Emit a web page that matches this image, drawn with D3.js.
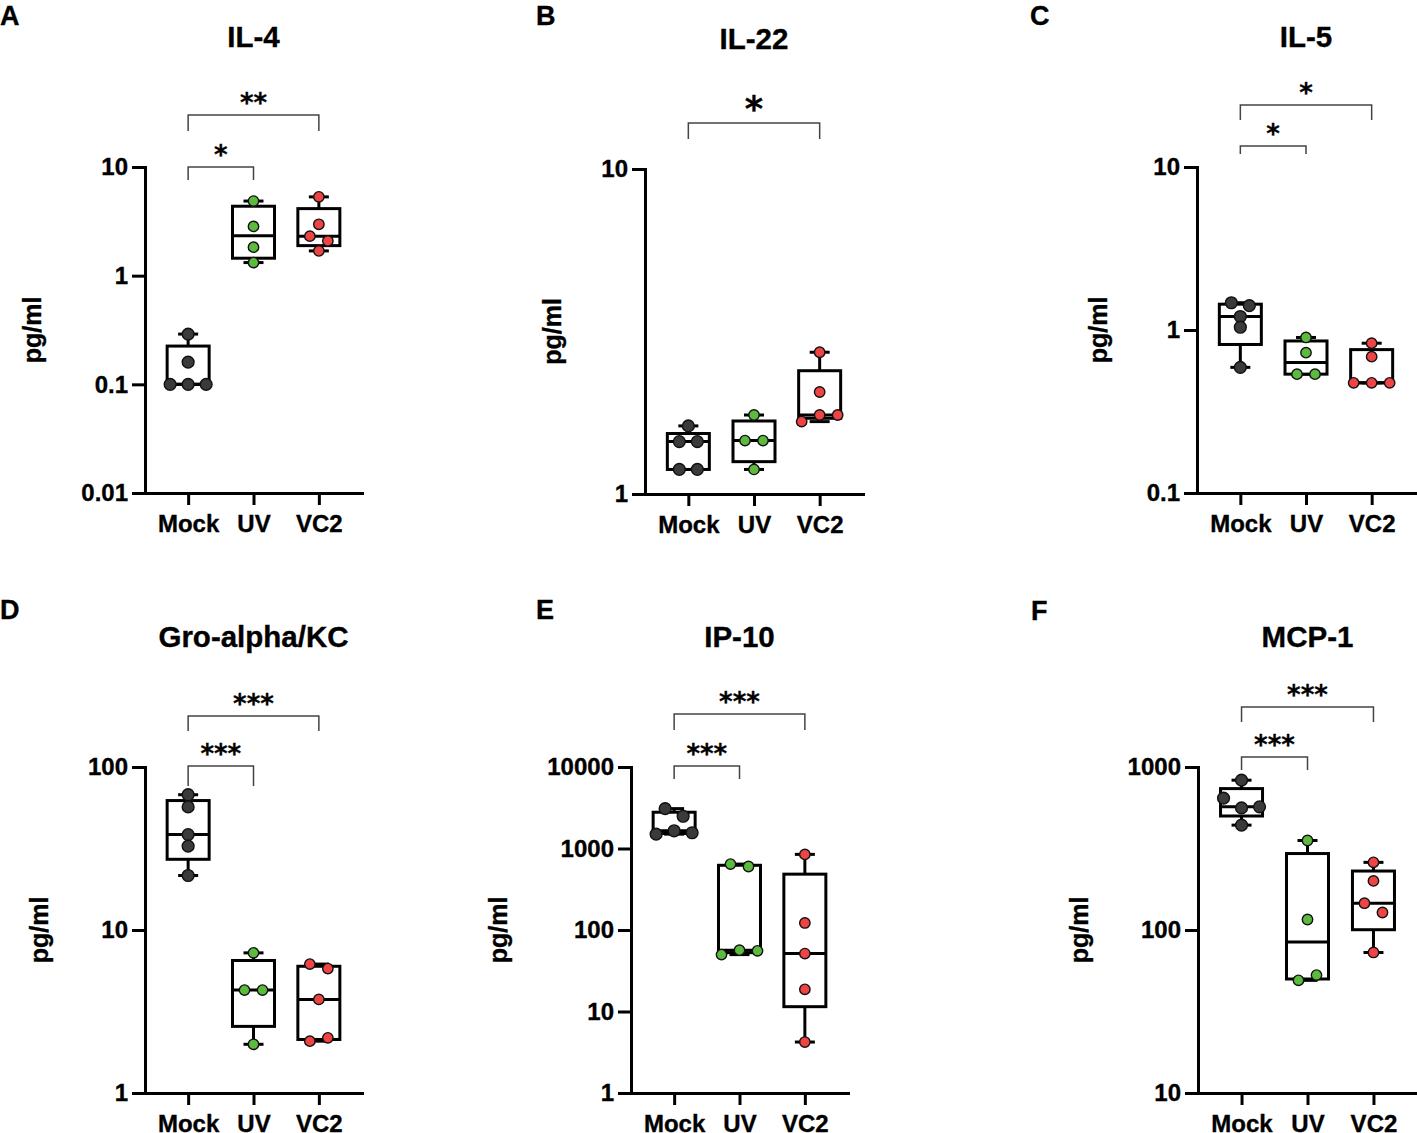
<!DOCTYPE html>
<html>
<head>
<meta charset="utf-8">
<script src="https://cdn.jsdelivr.net/npm/d3@7"></script>
<style>
body { margin: 0; background: #fff; }
text { font-family: "Liberation Sans", Arial, sans-serif; font-weight: bold; fill: #000; stroke: #000; stroke-width: 0.35; }
text.star { font-family: "DejaVu Sans", sans-serif; stroke-width: 0.3; }
</style>
</head>
<body>
<div id="chart"></div>
<script>
var groups = ["Mock", "UV", "VC2"];

// values (pg/ml)
var il4Mock = [0.29, 0.16, 0.10, 0.10, 0.10];
var il4UV = [4.86, 2.84, 1.83, 1.32];
var il4VC2 = [5.31, 2.97, 2.31, 2.09, 1.69];

var il22Mock = [1.62, 1.45, 1.45, 1.19, 1.19];
var il22UV = [1.75, 1.46, 1.46, 1.19];
var il22VC2 = [2.73, 2.06, 1.67, 1.75, 1.75];

var il5Mock = [1.47, 1.41, 1.21, 1.04, 0.59];
var il5UV = [0.90, 0.726, 0.536, 0.536];
var il5VC2 = [0.83, 0.686, 0.474, 0.474, 0.474];

var groMock = [67.6, 56.9, 38.5, 32.7, 21.6];
var groUV = [7.24, 4.28, 4.28, 1.99];
var groVC2 = [6.18, 5.8, 3.75, 2.08, 2.18];

var ip10Mock = [3085, 2487, 1500, 1650, 1560];
var ip10UV = [644, 601, 49.9, 56.6, 55.5];
var ip10VC2 = [847, 122, 51.4, 18.7, 4.22];

var mcpMock = [830, 644, 561, 570, 440];
var mcpUV = [354, 116, 49.1, 52.9];
var mcpVC2 = [260, 200, 146, 128, 72.8];

var il4Ticks = [0.01, 0.1, 1, 10];
var il22Ticks = [1, 10];
var il5Ticks = [0.1, 1, 10];
var groTicks = [1, 10, 100];
var ip10Ticks = [1, 10, 100, 1000, 10000];
var mcpTicks = [10, 100, 1000];

var colors = { Mock: "#3a3a3a", UV: "#5cba3e", VC2: "#ef4444" };

var panels = [
    { letter: "A", lx: 0, ly: 25, title: "IL-4", data: [il4Mock, il4UV, il4VC2], ticks: il4Ticks,
      left: 145, right: 362, top: 167, bottom: 493,
      stats: [{ a: "Mock", b: "UV", label: "*", h: 0, drop: 13 },
              { a: "Mock", b: "VC2", label: "**", h: -52, drop: 16 }] },
    { letter: "B", lx: 536, ly: 25, title: "IL-22", data: [il22Mock, il22UV, il22VC2], ticks: il22Ticks,
      left: 645, right: 863, top: 169, bottom: 494,
      stats: [{ a: "Mock", b: "VC2", label: "*", h: -46, drop: 16, big: true }] },
    { letter: "C", lx: 1030, ly: 25, title: "IL-5", data: [il5Mock, il5UV, il5VC2], ticks: il5Ticks,
      left: 1197, right: 1415, top: 167, bottom: 493,
      stats: [{ a: "Mock", b: "UV", label: "*", h: -21, drop: 8 },
              { a: "Mock", b: "VC2", label: "*", h: -62, drop: 15 }] },
    { letter: "D", lx: 0, ly: 619, title: "Gro-alpha/KC", data: [groMock, groUV, groVC2], ticks: groTicks,
      left: 145, right: 362, top: 767, bottom: 1093,
      stats: [{ a: "Mock", b: "UV", label: "***", h: -1, drop: 20 },
              { a: "Mock", b: "VC2", label: "***", h: -51, drop: 15 }] },
    { letter: "E", lx: 536, ly: 619, title: "IP-10", data: [ip10Mock, ip10UV, ip10VC2], ticks: ip10Ticks,
      left: 631, right: 848, top: 767, bottom: 1093,
      stats: [{ a: "Mock", b: "UV", label: "***", h: -1, drop: 13 },
              { a: "Mock", b: "VC2", label: "***", h: -53, drop: 16 }] },
    { letter: "F", lx: 1031, ly: 620, title: "MCP-1", data: [mcpMock, mcpUV, mcpVC2], ticks: mcpTicks,
      left: 1198, right: 1417, top: 767, bottom: 1093,
      stats: [{ a: "Mock", b: "UV", label: "***", h: -10, drop: 13 },
              { a: "Mock", b: "VC2", label: "***", h: -60, drop: 15 }] }
];

// GraphPad style quartiles: position p*(n+1)
function quart(sorted, p) {
    var n = sorted.length, pos = p * (n + 1) - 1;
    if (pos <= 0) return sorted[0];
    if (pos >= n - 1) return sorted[n - 1];
    var lo = Math.floor(pos), f = pos - lo;
    return sorted[lo] + f * (sorted[lo + 1] - sorted[lo]);
}

// spread points that sit on the same row, in data order
function swarm(values, y, cx) {
    var pts = values.map(function(v, i) { return { v: v, i: i, py: y(v) }; });
    var sorted = pts.slice().sort(function(a, b) { return a.py - b.py || a.i - b.i; });
    var rows = [], row = null;
    sorted.forEach(function(d) {
        if (!row || d.py - row[0].py > 10.5) { row = [d]; rows.push(row); }
        else row.push(d);
    });
    rows.forEach(function(r) {
        r.sort(function(a, b) { return a.i - b.i; });
        r.forEach(function(d, k) { d.px = cx + (k - (r.length - 1) / 2) * 18; });
    });
    return pts;
}

var svg = d3.select("#chart").append("svg")
    .attr("width", 1417)
    .attr("height", 1133);

panels.forEach(function(p) {
    var g = svg.append("g");

    var x = d3.scalePoint()
        .domain(groups)
        .range([p.left, p.right])
        .padding(0.66);

    var y = d3.scaleLog()
        .domain([p.ticks[0], p.ticks[p.ticks.length - 1]])
        .range([p.bottom, p.top]);

    var yAxis = g.append("g")
        .attr("transform", "translate(" + p.left + ",0)")
        .call(d3.axisLeft(y).tickValues(p.ticks).tickFormat(function(d) { return String(d); })
            .tickSize(13).tickPadding(4).tickSizeOuter(0));

    g.append("g")
        .attr("transform", "translate(0," + p.bottom + ")")
        .call(d3.axisBottom(x).tickSize(12).tickPadding(10).tickSizeOuter(0));

    g.selectAll(".domain")
        .attr("stroke", "#000")
        .attr("stroke-width", 3)
        .attr("stroke-linecap", "square");
    g.selectAll(".tick line")
        .attr("stroke", "#000")
        .attr("stroke-width", 3);
    g.selectAll(".tick text")
        .attr("font-size", 24)
        .attr("fill", "#000");

    // y label sits a fixed distance left of the tick labels
    var bb = yAxis.node().getBBox();
    g.append("text")
        .attr("transform", "translate(" + (p.left + bb.x - 40) + "," + ((p.top + p.bottom) / 2) + ") rotate(-90)")
        .attr("text-anchor", "middle")
        .attr("font-size", 25)
        .text("pg/ml");

    g.append("text")
        .attr("x", x("UV"))
        .attr("y", p.top - 120)
        .attr("text-anchor", "middle")
        .attr("font-size", 29.5)
        .text(p.title);

    g.append("text")
        .attr("x", p.lx)
        .attr("y", p.ly)
        .attr("font-size", 27)
        .text(p.letter);

    // boxes
    groups.forEach(function(name, gi) {
        var vals = p.data[gi];
        var s = vals.slice().sort(d3.ascending);
        var q1 = quart(s, 0.25), med = quart(s, 0.5), q3 = quart(s, 0.75);
        var cx = x(name), bw = 21, cw = 10;
        var bx = g.append("g")
            .attr("fill", "none")
            .attr("stroke", "#000")
            .attr("stroke-width", 3);

        bx.append("line").attr("x1", cx).attr("x2", cx).attr("y1", y(q3)).attr("y2", y(s[s.length - 1]));
        bx.append("line").attr("x1", cx).attr("x2", cx).attr("y1", y(q1)).attr("y2", y(s[0]));
        bx.append("line").attr("x1", cx - cw).attr("x2", cx + cw).attr("y1", y(s[s.length - 1])).attr("y2", y(s[s.length - 1]));
        bx.append("line").attr("x1", cx - cw).attr("x2", cx + cw).attr("y1", y(s[0])).attr("y2", y(s[0]));
        bx.append("rect")
            .attr("x", cx - bw)
            .attr("y", y(q3))
            .attr("width", bw * 2)
            .attr("height", y(q1) - y(q3))
            .attr("fill", "#fff");
        bx.append("line").attr("x1", cx - bw).attr("x2", cx + bw).attr("y1", y(med)).attr("y2", y(med));

        g.append("g")
            .selectAll("circle")
            .data(swarm(vals, y, cx))
            .enter().append("circle")
            .attr("cx", function(d) { return d.px; })
            .attr("cy", function(d) { return d.py; })
            .attr("r", name === "Mock" ? 5.9 : 5.2)
            .attr("fill", colors[name])
            .attr("stroke", "#111")
            .attr("stroke-width", 1.4);
    });

    // significance brackets
    p.stats.forEach(function(st) {
        var x1 = x(st.a), x2 = x(st.b), h = p.top + st.h;
        g.append("path")
            .attr("d", "M" + x1 + "," + (h + st.drop) + "V" + h + "H" + x2 + "V" + (h + st.drop))
            .attr("fill", "none")
            .attr("stroke", "#444")
            .attr("stroke-width", 1.5);
        g.append("text")
            .attr("class", "star")
            .attr("x", (x1 + x2) / 2)
            .attr("y", st.big ? h - 2 : h - 3)
            .attr("text-anchor", "middle")
            .attr("font-size", st.big ? 35 : 26)
            .text(st.label);
    });
});
</script>
</body>
</html>
